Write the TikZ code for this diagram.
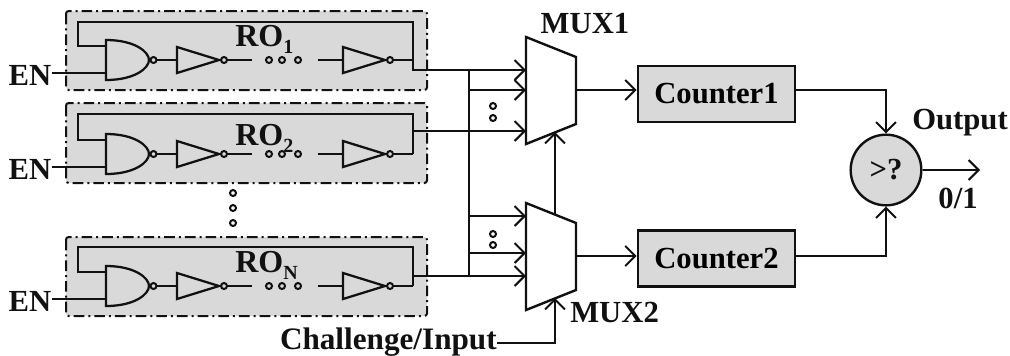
\documentclass[tikz,border=0pt]{standalone}
\usepackage{fontspec}
\setmainfont{Liberation Serif}
\usetikzlibrary{arrows.meta,calc}
\definecolor{boxgray}{HTML}{D9D9D9}
\definecolor{ink}{HTML}{111111}
\tikzset{
  wire/.style={line width=1.7pt,draw=ink,line cap=butt,line join=miter},
  arrowwire/.style={wire,-{Straight Barb[length=7.5pt,width=15pt,line width=1.5pt]}},
  robox/.style={draw=ink,fill=boxgray,line width=1.5pt,rounded corners=2pt,dash pattern=on 8pt off 3pt on 1.5pt off 3pt},
  counterbox/.style={draw=ink,fill=boxgray,line width=1.8pt,minimum width=118pt,minimum height=42pt,inner sep=0pt,font=\fontsize{23}{23}\selectfont\bfseries},
  lab/.style={text=ink,inner sep=0pt,font=\fontsize{23}{23}\selectfont\bfseries},
  hollow/.style={draw=ink,line width=1.5pt,fill=none},
  muxshape/.style={draw=ink,line width=1.8pt,fill=white,line join=miter},
  gate/.style={draw=ink,line width=1.7pt,fill=none,line join=miter},
}
\newcommand{\roblock}[7]{%
  % #1 name, #2 y offset, #3 local box top, #4 local box bottom, #5 local top wire, #6 label, #7 local label baseline
  \begin{scope}[shift={(0,#2)}]
    \path[robox] (66,#3) rectangle (427,#4);
    \coordinate (#1ftl) at (78,#5);
    \coordinate (#1ftr) at (413,#5);
    \coordinate (#1nin) at (106,46);
    \coordinate (#1nen) at (106,73);
    \coordinate (#1en) at (52,73);
    \coordinate (#1b) at (413,60);
    \draw[wire] (#1nin) -| (#1ftl) -- (#1ftr) -- (#1b);
    \draw[gate] (106,40) .. controls (135,40) and (149,52) .. (149,60)
                         .. controls (149,68) and (135,80) .. (106,80) -- cycle;
    \draw[hollow] (153.5,60) circle (2.25pt);
    \draw[wire] (#1en) -- (#1nen);
    \draw[wire] (156.5,60) -- (177,60);
    \draw[gate] (177,47) -- (177,73) -- (219,60) -- cycle;
    \draw[hollow] (224,60) circle (2.25pt);
    \draw[wire] (227,60) -- (252,60);
    \foreach \dx in {269,282,298} \draw[hollow] (\dx,60) circle (2.25pt);
    \draw[wire] (318,60) -- (343,60);
    \draw[gate] (343,47) -- (343,73) -- (385,60) -- cycle;
    \draw[hollow] (390,60) circle (2.25pt);
    \draw[wire] (393,60) -- (#1b);
    \node[lab,anchor=base west,font=\fontsize{24}{24}\selectfont\bfseries] (#1lab) at (235,#7) {#6};
    \node[lab,anchor=base] (#1enl) at (30,85.5) {EN};
  \end{scope}
}
\newcommand{\subs}[1]{\raisebox{-.22em}{\fontsize{15}{15}\selectfont #1}}
\begin{document}
\begin{tikzpicture}[x=0.75pt,y=-0.75pt]
\useasboundingbox (0,0) rectangle (1010,355);
\fill[white] (0,0) rectangle (1010,355);

\roblock{a}{0}{11}{90}{22}{RO\subs{1}}{46.5}
\roblock{b}{94}{9}{89}{20}{RO\subs{2}}{51}
\roblock{n}{226}{11}{90}{21}{RO\subs{N}}{46}

% vertical dots between blocks
\foreach \dy in {193,208,223} \draw[hollow] (233,\dy) circle (2.25pt);

% multiplexers
\draw[muxshape] (526,37) coordinate (m1tl) -- (576,57) coordinate (m1tr) -- (576,124) coordinate (m1br) -- (526,144) coordinate (m1bl) -- cycle;
\draw[muxshape] (526,203) coordinate (m2tl) -- (576,223) coordinate (m2tr) -- (576,290) coordinate (m2br) -- (526,310) coordinate (m2bl) -- cycle;

% RO outputs and bus
\coordinate (busa) at (469,70);
\coordinate (busb) at (469,131);
\coordinate (busn) at (469,276);
\coordinate (oa) at (413,70);
\coordinate (ob) at (413,131);
\coordinate (on) at (413,276);
\draw[wire] (busa) -- (busn);
\draw[wire] (ab) -- (oa) -- (busa);
\draw[wire] (ob) -- (busb);
\draw[wire] (on) -- (busn);

% MUX1 inputs
\coordinate (bus1) at (469,90);
\coordinate (bus2) at (469,216);
\coordinate (bus3) at (469,253);
\coordinate (m1a) at (526,70);
\coordinate (m1b) at (526,90);
\coordinate (m1c) at (526,131);
\coordinate (m2a) at (526,216);
\coordinate (m2b) at (526,253);
\coordinate (m2c) at (526,276);
\draw[arrowwire] (busa) -- (m1a);
\draw[arrowwire] (bus1) -- (m1b);
\draw[arrowwire] (busb) -- (m1c);
\foreach \dy in {106,118} \draw[hollow] (493,\dy) circle (2.25pt);

% MUX2 inputs
\draw[arrowwire] (bus2) -- (m2a);
\draw[arrowwire] (bus3) -- (m2b);
\draw[arrowwire] (busn) -- (m2c);
\foreach \dy in {234,245} \draw[hollow] (493,\dy) circle (2.25pt);

% select lines
\coordinate (s2top) at (555,214);
\coordinate (s1tip) at (555,132);
\coordinate (s2tip) at (555,298);
\coordinate (chout) at (497,343);
\coordinate (chturn) at (555,343);
\draw[arrowwire] (s2top) -- (s1tip);
\node[lab,anchor=base east,font=\fontsize{23.4}{23.4}\selectfont\bfseries] (chal) at (497,349.5) {Challenge/Input};
\draw[arrowwire] (chout) -- (chturn) -- (s2tip);

% counters
\node[counterbox] (c1) at (716.5,94) {Counter1};
\node[counterbox] (c2) at (716.5,258.5) {Counter2};
\coordinate (m1out) at (576,90);
\coordinate (m2out) at (576,256);
\draw[arrowwire] (m1out) -- (c1.west |- m1out);
\draw[arrowwire] (m2out) -- (c2.west |- m2out);

% comparator
\node[draw=ink,fill=boxgray,line width=1.8pt,circle,minimum size=53pt,inner sep=0pt,text=ink,font=\fontsize{23}{23}\selectfont\bfseries] (cmp) at (886,170) {>?};
\draw[arrowwire] (c1.east |- m1out) -| (cmp.north);
\draw[arrowwire] (c2.east |- m2out) -| (cmp.south);
\coordinate (outend) at (980,170);
\draw[arrowwire] (cmp.east) -- (outend);

% labels
\node[lab,anchor=base] (mux1) at (585,33) {MUX1};
\node[lab,anchor=base west] (mux2) at (570,322) {MUX2};
\node[lab,anchor=base] (outp) at (960,129) {Output};
\node[lab,anchor=base] (zo) at (958,208) {0/1};
\end{tikzpicture}
\end{document}
